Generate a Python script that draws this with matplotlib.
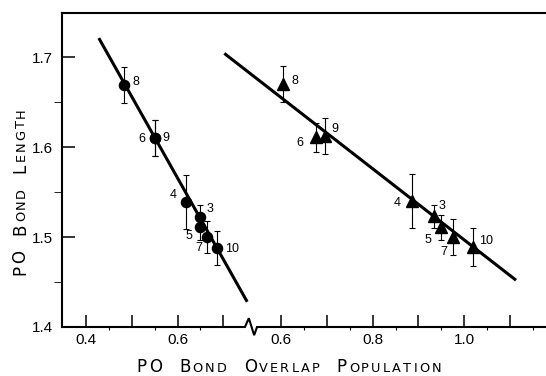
import matplotlib
matplotlib.use('Agg')
import matplotlib.pyplot as plt
from matplotlib.transforms import IdentityTransform
import numpy as np

plt.rcParams['font.family'] = 'Liberation Sans'

# compound numbers, same order for both series
labels = ['8', '6', '9', '4', '3', '5', '7', '10']

# circles (left scale)
left_x = [0.484, 0.551, 0.551, 0.618, 0.650, 0.649, 0.665, 0.687]
left_y = [1.669, 1.610, 1.610, 1.539, 1.522, 1.511, 1.500, 1.488]
left_err = [0.02, 0.02, 0.02, 0.03, 0.014, 0.014, 0.018, 0.019]

# triangles (right scale)
right_x = [0.604, 0.676, 0.696, 0.886, 0.933, 0.949, 0.976, 1.020]
right_y = [1.670, 1.611, 1.612, 1.540, 1.523, 1.511, 1.500, 1.489]
right_err = [0.02, 0.016, 0.02, 0.03, 0.013, 0.014, 0.02, 0.021]

# fitted lines (end points)
left_fit_x = [0.428, 0.752]
left_fit_y = [1.721, 1.428]
right_fit_x = [0.476, 1.113]
right_fit_y = [1.704, 1.452]

left_ticks = [0.4, 0.5, 0.6, 0.7]
left_ticklabels = ['0.4', '', '0.6', '']
right_ticks = [0.6, 0.7, 0.8, 0.9, 1.0, 1.1]
right_ticklabels = ['0.6', '', '0.8', '', '1.0', '']
y_ticks = [1.4, 1.5, 1.6, 1.7]

# label offsets in points
left_offsets = [(8.4, 2.2), (-9.9, -0.4), (7.9, 0), (-9.4, 4.8),
                (6.9, 5.6), (-8.1, -6.2), (-6.2, -7.9), (10.4, -1)]
right_offsets = [(8.3, 2.3), (-11.2, -4.4), (7, 5.3), (-11, -1.3),
                 (6.1, 7.7), (-9.4, -9), (-6.8, -10.8), (8.9, 4)]

shift = 0.226  # right scale drawn on the same axis, shifted past the break


def caps_label(fig, words, center, angle, big, small, tracking, gap):
    # fake small caps: first letter big, rest small
    r = fig.canvas.get_renderer()
    rad = np.deg2rad(angle)
    d = np.array([np.cos(rad), np.sin(rad)])
    items = []
    for w in words:
        for j, ch in enumerate(w):
            size = big if (j == 0 or w == 'PO') else small
            t = fig.text(0, 0, ch, fontsize=size, family='DejaVu Sans',
                         transform=IdentityTransform(), ha='left',
                         va='baseline', rotation_mode='anchor')
            wd = t.get_window_extent(r).width
            items.append([t, wd, tracking])
        items[-1][2] = gap
    items[-1][2] = 0
    total = sum(wd + sp for _, wd, sp in items)
    pos = np.array(center, dtype=float) - d * total / 2
    for t, wd, sp in items:
        t.set_position(tuple(pos))
        t.set_rotation(angle)
        pos = pos + d * (wd + sp)


fig = plt.figure(figsize=(5.46, 3.76), dpi=100)
ax = fig.add_axes([62 / 546, 49 / 376, 484 / 546, 314 / 376])

ax.plot(left_fit_x, left_fit_y, color='black', lw=2.2, solid_capstyle='butt')
ax.plot(np.array(right_fit_x) + shift, right_fit_y, color='black', lw=2.2,
        solid_capstyle='butt')

ax.errorbar(left_x, left_y, yerr=left_err, fmt='none', ecolor='black',
            elinewidth=0.8, capsize=2.2, capthick=0.8)
ax.errorbar(np.array(right_x) + shift, right_y, yerr=right_err, fmt='none',
            ecolor='black', elinewidth=0.8, capsize=2.2, capthick=0.8)
ax.plot(left_x, left_y, 'o', color='black', ms=7.3, zorder=4)
ax.plot(np.array(right_x) + shift, right_y, '^', color='black', ms=8, zorder=4)

for lab, x, y, off in zip(labels, left_x, left_y, left_offsets):
    ax.annotate(lab, (x, y), xytext=off, textcoords='offset points',
                ha='center', va='center', fontsize=9)
for lab, x, y, off in zip(labels, right_x, right_y, right_offsets):
    ax.annotate(lab, (x + shift, y), xytext=off, textcoords='offset points',
                ha='center', va='center', fontsize=9)

ax.set_xlim(0.3476, 1.4044)
ax.set_ylim(1.4, 1.7489)

ax.set_xticks(left_ticks + [v + shift for v in right_ticks])
ax.set_xticklabels(left_ticklabels + right_ticklabels)
ax.set_xticks([v + 0.05 for v in left_ticks[:-1]] +
              [v + shift + 0.05 for v in right_ticks], minor=True)
ax.set_yticks(y_ticks)
ax.set_yticklabels([f'{v:.1f}' for v in y_ticks])
ax.set_yticks([1.45, 1.55, 1.65], minor=True)

ax.tick_params(direction='in', labelsize=11, width=1.1, color='black')
ax.tick_params(axis='x', which='major', length=8.6, pad=4.3)
ax.tick_params(axis='x', which='minor', length=1.8, width=0.8)
ax.tick_params(axis='y', which='major', length=9.4, pad=6.5)
ax.tick_params(axis='y', which='minor', length=5.8)

ax.spines['right'].set_visible(False)
ax.spines['bottom'].set_visible(False)
ax.spines['left'].set_linewidth(1.5)
ax.spines['top'].set_linewidth(1.5)

# bottom axis line with the break mark
ax.plot([0, 0.378, 0.386, 0.397, 0.403, 1], [0, 0, 0.028, -0.026, 0, 0],
        transform=ax.transAxes, color='black', lw=1.5, clip_on=False,
        solid_joinstyle='miter', zorder=5)

caps_label(fig, ['PO', 'BOND', 'OVERLAP', 'POPULATION'], (289, 3.5), 0,
           12, 9.3, 2.2, 17)
caps_label(fig, ['PO', 'BOND', 'LENGTH'], (25, 184.5), 90,
           12, 9.3, 2.0, 15)

fig.savefig('out.png', dpi=100)
